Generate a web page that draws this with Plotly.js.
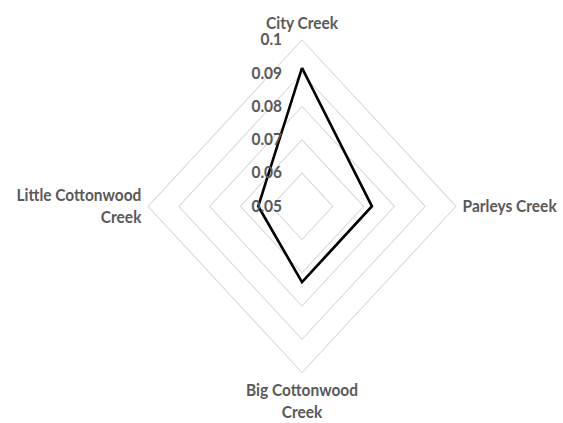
<!DOCTYPE html>
<html>
<head>
<meta charset="utf-8">
<script src="https://cdn.plot.ly/plotly-3.0.1.min.js"></script>
<style>
html,body{margin:0;padding:0;background:#fff;overflow:hidden;}
#wrap{width:563px;height:423px;overflow:hidden;}
#chart{width:563px;height:392px;transform:scaleY(1.08);transform-origin:0 0;}
</style>
</head>
<body>
<div id="wrap"><div id="chart"></div></div>
<script>
const categories = ["City Creek", "Parleys Creek", "Big Cottonwood<br>Creek", "Little Cottonwood<br>Creek"];
const values = [0.0916, 0.0727, 0.0728, 0.0642];
const radialTicks = [0.05, 0.06, 0.07, 0.08, 0.09, 0.1];
const radialTickText = ["0.05", "0.06", "0.07", "0.08", "0.09", "0.1"];

const trace = {
  type: 'scatterpolar',
  r: values.concat([values[0]]),
  theta: categories.concat([categories[0]]),
  mode: 'lines',
  line: {color: '#000000', width: 2.6},
  hoverinfo: 'skip',
  showlegend: false
};

const fam = 'Lato, "Open Sans", sans-serif';
const layout = {
  width: 563, height: 392,
  margin: {l: 108, r: 67, t: 37, b: 47},
  paper_bgcolor: '#ffffff',
  plot_bgcolor: '#ffffff',
  font: {family: fam, color: '#595959', size: 15, weight: 'bold'},
  polar: {
    bgcolor: '#ffffff',
    gridshape: 'linear',
    domain: {x: [0, 1], y: [0, 1]},
    radialaxis: {
      range: [0.05, 0.1],
      tickvals: radialTicks,
      ticktext: radialTickText,
      angle: 90,
      tickangle: 90,
      side: 'counterclockwise',
      showline: false,
      ticks: 'outside',
      ticklen: 14,
      tickcolor: 'rgba(0,0,0,0)',
      gridcolor: '#d9d9d9',
      gridwidth: 1,
      tickfont: {family: fam, size: 15.5, color: '#595959', weight: 'bold'},
      layer: 'above traces'
    },
    angularaxis: {
      rotation: 90,
      direction: 'clockwise',
      showgrid: false,
      showline: true,
      linecolor: '#d9d9d9',
      linewidth: 1,
      ticks: 'outside',
      ticklen: 3,
      tickcolor: 'rgba(0,0,0,0)',
      tickfont: {family: fam, size: 15.5, color: '#595959', weight: 'bold'}
    }
  }
};

Plotly.newPlot('chart', [trace], layout, {displayModeBar: false, staticPlot: true});
</script>
</body>
</html>
